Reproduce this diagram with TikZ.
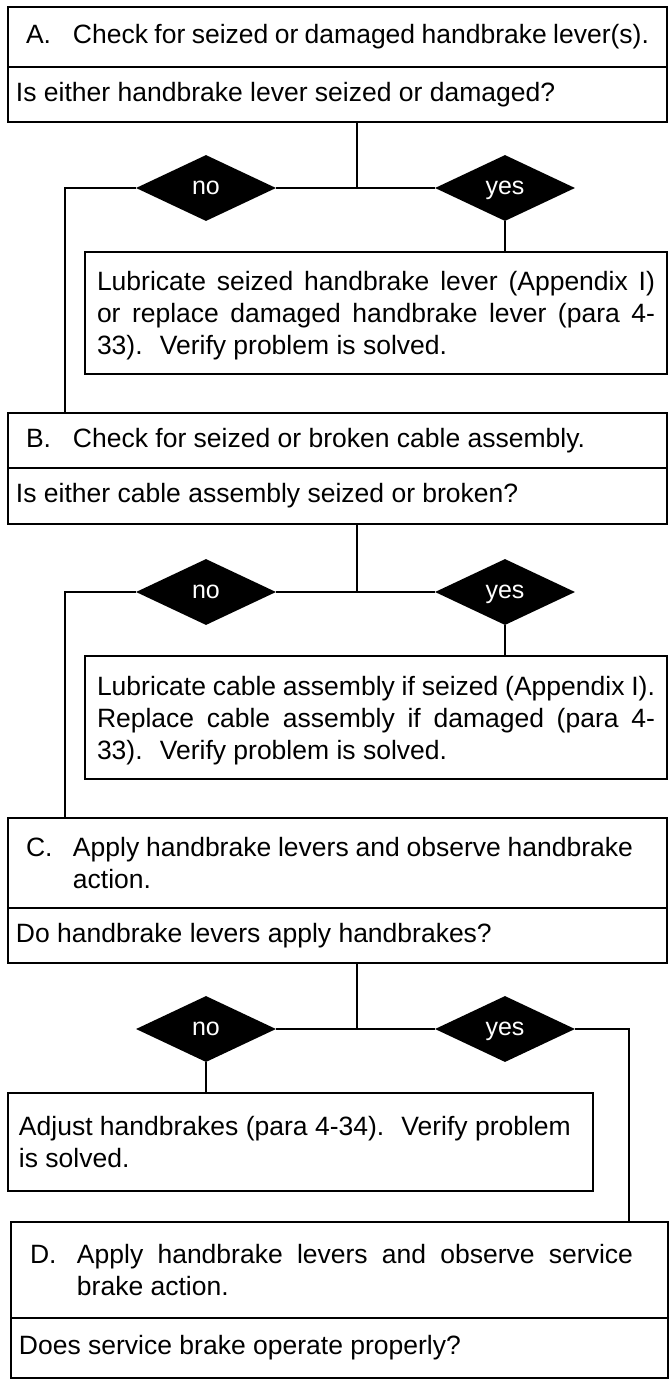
\documentclass[tikz,border=0pt]{standalone}
\usepackage{fontspec}
\setmainfont{Liberation Sans}
\usetikzlibrary{shapes.geometric}
\newcommand\fsz{\fontsize{26.5}{32}\selectfont}
\begin{document}
\begin{tikzpicture}[x=1pt,y=-1pt,
  bx/.style={draw, line width=2.2pt, inner sep=0pt, font=\fsz},
  dia/.style={diamond, fill=black, minimum width=140pt, minimum height=66pt, inner sep=0pt, text=white, text height=13pt, text depth=0pt, font=\fontsize{25}{25}\selectfont},
  ln/.style={line width=2pt}]
\useasboundingbox (0,0) rectangle (671,1384);
\coordinate (lx) at (65,0);
\coordinate (rx) at (629,0);
% ---------- A
\node[bx, minimum width=659pt, minimum height=60pt] (Ah) at (337.5,37)
  {\parbox{623pt}{\makebox[47pt][l]{A.}Check for seized or damaged handbrake lever(s).}};
\node[bx, minimum width=659pt, minimum height=55pt] (Aq) at (337.5,94.5)
  {\parbox{643pt}{Is either handbrake lever seized or damaged?}};
\node[dia] (no1) at (206,188) {no};
\node[dia] (yes1) at (505,188) {yes};
\coordinate (j1) at (357,188);
\draw[ln] (Aq.south -| j1) -- (j1);
\draw[ln] (no1.east) -- (yes1.west);
\node[bx, minimum width=582pt, minimum height=122pt] (L1) at (376,313)
  {\parbox{558pt}{\vspace*{6pt}Lubricate seized handbrake lever (Appendix I)\linebreak or replace damaged handbrake lever (para 4-\linebreak 33). \ Verify problem is solved.}};
\draw[ln] (yes1.south) -- (L1.north -| yes1);
% ---------- B
\node[bx, minimum width=659pt, minimum height=55pt] (Bh) at (337.5,440.5)
  {\parbox{623pt}{\makebox[47pt][l]{B.}Check for seized or broken cable assembly.}};
\node[bx, minimum width=659pt, minimum height=56pt] (Bq) at (337.5,496)
  {\parbox{643pt}{Is either cable assembly seized or broken?}};
\draw[ln] (no1.west) -| (Bh.north -| lx);
\node[dia] (no2) at (206,592) {no};
\node[dia] (yes2) at (505,592) {yes};
\coordinate (j2) at (357,592);
\draw[ln] (Bq.south -| j2) -- (j2);
\draw[ln] (no2.east) -- (yes2.west);
\node[bx, minimum width=582pt, minimum height=123pt] (L2) at (376,717.5)
  {\parbox{558pt}{\vspace*{6pt}Lubricate cable assembly if seized (Appendix I).\linebreak Replace cable assembly if damaged (para 4-\linebreak 33). \ Verify problem is solved.}};
\draw[ln] (yes2.south) -- (L2.north -| yes2);
% ---------- C
\node[bx, minimum width=659pt, minimum height=90pt] (Ch) at (337.5,863)
  {\parbox{623pt}{\makebox[47pt][l]{C.}\parbox[t]{560pt}{Apply handbrake levers and observe handbrake\linebreak action.}}};
\node[bx, minimum width=659pt, minimum height=55pt] (Cq) at (337.5,935.5)
  {\parbox{643pt}{Do handbrake levers apply handbrakes?}};
\draw[ln] (no2.west) -| (Ch.north -| lx);
\node[dia] (no3) at (206,1029) {no};
\node[dia] (yes3) at (505,1029) {yes};
\coordinate (j3) at (357,1029);
\draw[ln] (Cq.south -| j3) -- (j3);
\draw[ln] (no3.east) -- (yes3.west);
\node[bx, minimum width=585pt, minimum height=98pt] (Adj) at (300.5,1142)
  {\parbox{563pt}{Adjust handbrakes (para 4-34). \ Verify problem\\ is solved.}};
\draw[ln] (no3.south) -- (Adj.north -| no3);
% ---------- D
\node[bx, minimum width=657pt, minimum height=96pt] (Dh) at (339.5,1270)
  {\parbox{619pt}{\makebox[47pt][l]{D.}\parbox[t]{556pt}{Apply handbrake levers and observe service\linebreak brake action.}}};
\node[bx, minimum width=657pt, minimum height=60pt] (Dq) at (339.5,1348)
  {\parbox{641pt}{Does service brake operate properly?}};
\draw[ln] (yes3.east) -| (Dh.north -| rx);
\end{tikzpicture}
\end{document}
